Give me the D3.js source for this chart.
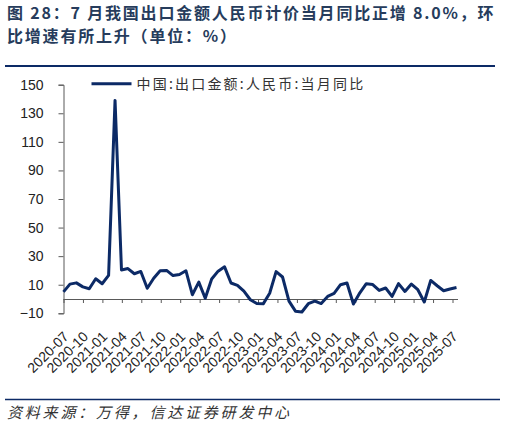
<!DOCTYPE html>
<html>
<head>
<meta charset="utf-8">
<script src="https://cdn.jsdelivr.net/npm/d3@7"></script>
<style>
  html, body { margin: 0; padding: 0; background: #fff; }
  svg { display: block; }
</style>
</head>
<body>
<svg id="chart" width="509" height="427"></svg>
<script>
// Series: China exports (RMB), growth on the same month a year earlier, %, monthly from 2020-06
const firstMonth = "2020-06";
const exportYoY = [
    5.0, 10.4, 11.3, 8.5, 7.2, 14.2, 10.7,
    16.5, 139.0, 20.3, 21.3, 17.7, 19.3, 7.5, 14.5, 19.8, 20.0, 16.4, 17.2,
    19.8, 3.0, 11.8, 0.5, 14.0, 19.5, 22.5, 11.2, 9.6, 5.5, -0.5, -3.2,
    -3.4, 4.0, 19.2, 15.4, -1.5, -8.5, -9.1, -3.3, -1.5, -3.2, 1.8, 3.9,
    10.0, 11.2, -3.5, 4.3, 10.7, 10.1, 6.0, 7.7, 1.8, 10.8, 5.3, 10.5,
    6.5, -2.1, 13.0, 9.3, 5.8, 7.0, 8.0
];

// Axis labels
const xTickLabels = [
    "2020-07", "2020-10", "2021-01", "2021-04", "2021-07", "2021-10",
    "2022-01", "2022-04", "2022-07", "2022-10", "2023-01", "2023-04",
    "2023-07", "2023-10", "2024-01", "2024-04", "2024-07", "2024-10",
    "2025-01", "2025-04", "2025-07"
];
const yTicks = [-10, 10, 30, 50, 70, 90, 110, 130, 150];

const titleLines = [
    "图 28：7 月我国出口金额人民币计价当月同比正增 8.0%，环",
    "比增速有所上升（单位：%）"
];
const seriesName = "中国:出口金额:人民币:当月同比";
const sourceText = "资料来源：万得，信达证券研发中心";

const svg = d3.select("#chart");
const cjk = "'Noto Sans CJK SC', 'Noto Sans', sans-serif";
const latin = "'Liberation Sans', Arial, sans-serif";
const navy = "#0c2a66";
const titleColor = "#263c5c";
const axisColor = "#595959";

// Title
svg.selectAll(".title")
    .data(titleLines)
    .enter()
    .append("text")
    .attr("class", "title")
    .attr("x", 7)
    .attr("y", (d, i) => 19 + i * 23)
    .attr("font-family", cjk)
    .attr("font-size", 16)
    .attr("font-weight", "bold")
    .attr("letter-spacing", 1.8)
    .attr("fill", titleColor)
    .text(d => d);

// Rules under the title and above the source
svg.append("line")
    .attr("x1", 5).attr("x2", 495)
    .attr("y1", 66).attr("y2", 66)
    .attr("stroke", navy).attr("stroke-width", 2);
svg.append("line")
    .attr("x1", 5).attr("x2", 500)
    .attr("y1", 399.5).attr("y2", 399.5)
    .attr("stroke", navy).attr("stroke-width", 1.5);

// Scales
const x = d3.scaleLinear()
    .domain([0, exportYoY.length - 1])
    .range([63.5, 456.5]);
const y = d3.scaleLinear()
    .domain([-10, 150])
    .range([313.3, 84.7]);
const xTickScale = d3.scalePoint()
    .domain(xTickLabels)
    .range([63.5, 452.5]);

// Y axis
const yAxis = svg.append("g")
    .attr("transform", `translate(${x(0)},0)`)
    .call(d3.axisLeft(y).tickValues(yTicks).tickSize(5).tickPadding(15));
yAxis.select(".domain").attr("stroke", axisColor);
yAxis.selectAll(".tick line").attr("stroke", axisColor);
yAxis.selectAll(".tick text")
    .attr("font-family", latin)
    .attr("font-size", 14)
    .attr("fill", "#222");

// X axis, sits on the zero line
const xAxis = svg.append("g")
    .attr("transform", `translate(0,${y(0)})`)
    .call(d3.axisBottom(xTickScale).tickSizeInner(4).tickSizeOuter(0));
xAxis.select(".domain")
    .attr("d", `M${x(0)},0.5H${x(exportYoY.length - 1) + 1.5}`)
    .attr("stroke", axisColor);
xAxis.selectAll(".tick line").attr("stroke", axisColor);
xAxis.selectAll(".tick text")
    .attr("font-family", latin)
    .attr("font-size", 14)
    .attr("fill", "#222")
    .attr("text-anchor", "end")
    .attr("x", 0)
    .attr("y", 0)
    .attr("dy", "0.35em")
    .attr("transform", "translate(2,35) rotate(-45)");

// Line
const line = d3.line()
    .x((d, i) => x(i))
    .y(d => y(d));
svg.append("path")
    .datum(exportYoY)
    .attr("fill", "none")
    .attr("stroke", navy)
    .attr("stroke-width", 3)
    .attr("stroke-linejoin", "round")
    .attr("d", line);

// Legend
svg.append("line")
    .attr("x1", 91.5).attr("x2", 131.5)
    .attr("y1", 83.7).attr("y2", 83.7)
    .attr("stroke", navy).attr("stroke-width", 3);
svg.append("text")
    .attr("x", 136.5)
    .attr("y", 83.7)
    .attr("dy", "0.35em")
    .attr("font-family", cjk)
    .attr("font-size", 14)
    .attr("letter-spacing", 2.2)
    .attr("fill", "#333")
    .text(seriesName);

// Source
svg.append("text")
    .attr("x", 7)
    .attr("y", 418)
    .attr("font-family", cjk)
    .attr("font-size", 15)
    .attr("font-style", "italic")
    .attr("letter-spacing", 2.8)
    .attr("fill", "#333")
    .text(sourceText);
</script>
</body>
</html>
